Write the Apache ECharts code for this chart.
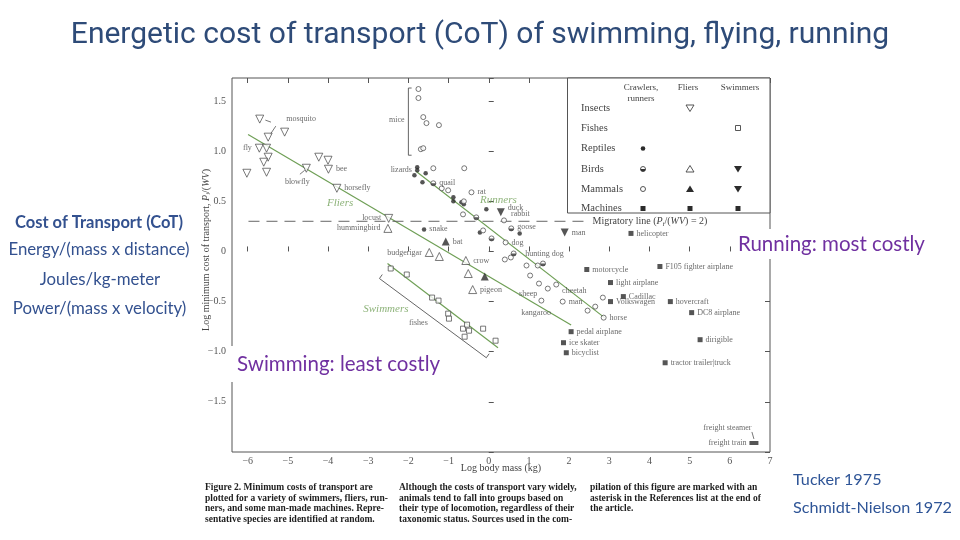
<!DOCTYPE html>
<html>
<head>
<meta charset="utf-8">
<title>Energetic cost of transport</title>
<script src="https://cdn.jsdelivr.net/npm/echarts@6/dist/echarts.min.js"></script>
<style>
  html, body { margin: 0; padding: 0; background: #fff; }
  #main { width: 960px; height: 540px; }
</style>
</head>
<body>
<div id="main"></div>
<script>
  // tick labels
  const xTickValues = [-6, -5, -4, -3, -2, -1, 0, 1, 2, 3, 4, 5, 6, 7];
  const xTickLabels = ['\u22126', '\u22125', '\u22124', '\u22123', '\u22122', '\u22121', '0', '1', '2', '3', '4', '5', '6', '7'];
  const yTickValues = [-1.5, -1, -0.5, 0, 0.5, 1, 1.5];
  const yTickLabels = ['\u22121.5', '\u22121.0', '\u22120.5', '0', '0.5', '1.0', '1.5'];

  // [log body mass, log cost of transport, label]
  const insects = [
    [-5.70, 1.32, 'mosquito'], [-5.49, 1.14], [-5.08, 1.19], [-5.71, 1.03, 'fly'], [-5.53, 1.03],
    [-5.49, 0.94], [-5.60, 0.89], [-6.02, 0.78], [-5.53, 0.79], [-4.54, 0.83, 'blowfly'],
    [-4.23, 0.94], [-4.00, 0.91], [-3.99, 0.82, 'bee'], [-3.78, 0.63, 'horsefly'], [-2.49, 0.33, 'locust']
  ];
  const birdsFly = [
    [-2.51, 0.23, 'hummingbird'], [-1.48, -0.01, 'budgerigar'], [-1.23, -0.05],
    [-0.57, -0.09, 'crow'], [-0.51, -0.22], [-0.40, -0.38, 'pigeon']
  ];
  const mammalsFly = [[-1.07, 0.10, 'bat'], [-0.10, -0.25]];
  const birdsSwim = [[0.30, 0.39, 'duck']];
  const mammalsSwim = [[1.89, 0.19, 'man']];
  const fishes = [
    [-2.44, -0.17], [-2.04, -0.23], [-1.41, -0.46], [-1.25, -0.49], [-1.01, -0.62], [-0.99, -0.67],
    [-0.64, -0.77], [-0.54, -0.73], [-0.49, -0.79], [-0.60, -0.85], [-0.14, -0.77], [0.17, -0.89]
  ];
  const reptiles = [
    [-1.78, 0.84], [-1.78, 0.81, 'lizards'], [-1.85, 0.76], [-1.57, 0.78], [-1.65, 0.69],
    [-1.61, 0.22, 'snake'], [-0.88, 0.54], [-0.88, 0.50], [-0.68, 0.49], [-0.62, 0.47],
    [-0.06, 0.42], [-0.22, 0.19], [0.77, 0.18]
  ];
  const birdsRun = [
    [-1.38, 0.68, 'quail'], [-0.31, 0.34], [0.56, 0.23, 'goose'], [0.07, 0.13], [0.62, -0.02], [1.35, -0.12]
  ];
  const mammalsRun = [
    [-1.75, 1.62], [-1.75, 1.53], [-1.63, 1.34], [-1.55, 1.28], [-1.24, 1.26], [-1.69, 1.02], [-1.63, 1.03],
    [-1.38, 0.83], [-0.61, 0.83], [-1.17, 0.63], [-1.01, 0.61], [-0.43, 0.59, 'rat'], [-0.62, 0.50],
    [-0.64, 0.37], [0.38, 0.31, 'rabbit'], [-0.14, 0.21], [0.42, 0.09, 'dog'], [0.40, -0.08], [0.55, -0.06],
    [0.94, -0.14], [1.22, -0.14], [1.03, -0.24], [1.25, -0.32], [1.31, -0.49], [1.84, -0.50, 'man'],
    [1.47, -0.37], [1.68, -0.33], [2.84, -0.46], [2.65, -0.55], [2.46, -0.59], [2.86, -0.66, 'horse']
  ];
  const machines = [
    [3.54, 0.18, 'helicopter'], [2.44, -0.18, 'motorcycle'], [4.26, -0.15, 'F105 fighter airplane'],
    [3.03, -0.31, 'light airplane'], [3.35, -0.45, 'Cadillac'], [3.03, -0.50, 'Volkswagen'],
    [4.52, -0.50, 'hovercraft'], [5.05, -0.61, 'DC8 airplane'], [2.05, -0.80, 'pedal airplane'],
    [1.86, -0.91, 'ice skater'], [1.93, -1.01, 'bicyclist'], [5.26, -0.88, 'dirigible'],
    [4.39, -1.11, 'tractor trailer|truck'], [6.60, -1.91, 'freight train']
  ];

  // fitted lines and annotations
  const fliersLine = [[-5.99, 1.167], [2.05, -0.733]];
  const runnersLine = [[-1.81, 0.80], [2.88, -0.66]];
  const swimmersLine = [[-2.52, -0.12], [0.23, -0.96]];
  const swimmersRange = [[-2.65, -0.23], [-2.72, -0.27], [-0.06, -1.06], [0.01, -1.02]];
  const miceBracket = [[-1.92, 1.63], [-2.0, 1.63], [-2.0, 0.96], [-1.92, 0.96]];
  const migratoryLine = [[-5.98, 0.301], [2.46, 0.301]];
  const leaders = [
    [[-5.56, 1.31], [-5.42, 1.29]], [[-5.30, 1.25], [-5.45, 1.16]],
    [[-4.70, 0.77], [-4.58, 0.81]], [[6.55, -1.80], [6.60, -1.87]]
  ];
  const notes = [
    [-2.29, 1.31, 'mice'], [-1.75, -0.71, 'fishes'], [0.98, -0.42, 'sheep'], [1.18, -0.61, 'kangaroo'],
    [1.39, -0.02, 'hunting dog'], [2.13, -0.39, 'cheetah'], [5.94, -1.76, 'freight steamer']
  ];
  const groupNotes = [[-3.70, 0.48, 'Fliers'], [0.24, 0.51, 'Runners'], [-2.56, -0.57, 'Swimmers']];

  const caption = [
    ['Figure 2. Minimum costs of transport are', 'plotted for a variety of swimmers, fliers, run-',
     'ners, and some man-made machines. Repre-', 'sentative species are identified at random.'],
    ['Although the costs of transport vary widely,', 'animals tend to fall into groups based on',
     'their type of locomotion, regardless of their', 'taxonomic status. Sources used in the com-'],
    ['pilation of this figure are marked with an', 'asterisk in the References list at the end of',
     'the article.']
  ];

  const serif = 'Liberation Serif';
  const ink = '#2b2b2b';
  const textInk = '#444';
  const green = '#6f9f56';

  const labelSide = { fly: 'left', lizards: 'left', locust: 'left', hummingbird: 'left', budgerigar: 'left', blowfly: 'bottom', 'freight train': 'left' };
  const labelGap = { mosquito: 22, blowfly: 5 };
  const labelShift = { blowfly: [-9, 0], duck: [0, -4], rabbit: [1, -6], goose: [0, -1] };

  function pts(arr) {
    return arr.map(function (d) {
      const o = { value: [d[0], d[1]] };
      if (d[2]) {
        o.name = d[2];
        o.label = {
          show: true,
          position: labelSide[d[2]] || 'right',
          distance: labelGap[d[2]] != null ? labelGap[d[2]] : 3,
          offset: labelShift[d[2]] || [0, 0]
        };
        if (d[2] === 'freight train') o.symbolSize = [9, 4];
      }
      return o;
    });
  }

  const pointLabel = { fontFamily: serif, fontSize: 8, color: textInk, formatter: '{b}' };
  const openStyle = { color: '#fff', borderColor: '#444', borderWidth: 0.9 };
  const fillStyle = { color: ink };

  function scatter(arr, symbol, size, style, rotate) {
    return {
      type: 'scatter', data: pts(arr), symbol: symbol, symbolSize: size,
      symbolRotate: rotate || 0, itemStyle: style, label: pointLabel, silent: true, z: 4
    };
  }
  function line(data, color, width, type) {
    return {
      type: 'line', data: data, symbol: 'none', silent: true, z: 3,
      lineStyle: { color: color, width: width, type: type || 'solid' }
    };
  }

  const series = [
    line(fliersLine, green, 1.2),
    line(runnersLine, green, 1.2),
    line(swimmersLine, green, 1.2),
    line(swimmersRange, '#666', 1),
    line(miceBracket, '#555', 0.9),
    Object.assign(line(migratoryLine, '#555', 0.9, [11, 7]), {
      endLabel: {
        show: true, distance: 5, fontFamily: serif, fontSize: 10, color: textInk,
        formatter: 'Migratory line ({i|P}{s|i}/({i|WV}) = 2)',
        rich: {
          i: { fontFamily: serif, fontSize: 10, fontStyle: 'italic', color: textInk },
          s: { fontFamily: serif, fontSize: 7, fontStyle: 'italic', color: textInk, padding: [5, 0, 0, 0] }
        }
      }
    })
  ];
  leaders.forEach(function (l) { series.push(line(l, '#555', 0.8)); });

  series.push(
    scatter(insects, 'triangle', 8, openStyle, 180),
    scatter(birdsFly, 'triangle', 8, openStyle),
    scatter(mammalsFly, 'triangle', 8, fillStyle),
    scatter(birdsSwim, 'triangle', 8, fillStyle, 180),
    scatter(mammalsSwim, 'triangle', 8, fillStyle, 180),
    scatter(fishes, 'rect', 5, openStyle),
    scatter(reptiles, 'circle', 4.5, fillStyle),
    scatter(mammalsRun, 'circle', 5, openStyle),
    scatter(birdsRun, 'circle', 5, openStyle),
    {
      type: 'scatter', data: birdsRun.map(function (d) { return [d[0], d[1]]; }),
      symbol: 'path://M0,0 A5,5 0 0 0 10,0 Z', symbolKeepAspect: false,
      symbolSize: [5, 2.5], symbolOffset: [0, 1.25], itemStyle: { color: '#333' }, silent: true, z: 5
    },
    scatter(machines, 'rect', 5, fillStyle),
    {
      type: 'scatter', symbolSize: 0, silent: true, z: 4,
      data: notes.map(function (d) { return { value: [d[0], d[1]], name: d[2] }; }),
      label: { show: true, position: 'inside', fontFamily: serif, fontSize: 8, color: textInk, formatter: '{b}' }
    },
    {
      type: 'scatter', symbolSize: 0, silent: true, z: 4,
      data: groupNotes.map(function (d) { return { value: [d[0], d[1]], name: d[2] }; }),
      label: { show: true, position: 'inside', fontFamily: serif, fontSize: 11, fontStyle: 'italic', color: green, formatter: '{b}' }
    }
  );

  // legend table (drawn as graphics)
  const legendRows = ['Insects', 'Fishes', 'Reptiles', 'Birds', 'Mammals', 'Machines'];
  const rowY = [108, 128, 148.5, 169, 189, 208.5];
  const colX = [643, 690, 738];
  const open = { fill: '#fff', stroke: '#444', lineWidth: 0.9 };
  const solid = { fill: ink };
  function up(cx, cy, st) { return { type: 'polygon', shape: { points: [[cx, cy - 3.5], [cx + 4, cy + 3], [cx - 4, cy + 3]] }, style: st, z: 20 }; }
  function down(cx, cy, st) { return { type: 'polygon', shape: { points: [[cx - 4, cy - 3], [cx + 4, cy - 3], [cx, cy + 3.5]] }, style: st, z: 20 }; }
  function sq(cx, cy, st) { return { type: 'rect', shape: { x: cx - 2.5, y: cy - 2.5, width: 5, height: 5 }, style: st, z: 20 }; }
  function dot(cx, cy, r, st) { return { type: 'circle', shape: { cx: cx, cy: cy, r: r }, style: st, z: 20 }; }

  const slideBlue = '#33518f';
  const graphics = [
    { type: 'text', x: 480, y: 35, style: { text: 'Energetic cost of transport (CoT) of swimming, flying, running', align: 'center', verticalAlign: 'middle', fontFamily: 'Roboto', fontSize: 30, fill: '#2e4b78' } },
    { type: 'text', x: 99, y: 223, style: { text: 'Cost of Transport (CoT)', align: 'center', verticalAlign: 'middle', fontFamily: 'Lato', fontWeight: 'bold', fontSize: 16.5, fill: slideBlue } },
    { type: 'text', x: 99, y: 250, style: { text: 'Energy/(mass x distance)', align: 'center', verticalAlign: 'middle', fontFamily: 'Lato', fontSize: 16.8, fill: slideBlue } },
    { type: 'text', x: 100, y: 280, style: { text: 'Joules/kg-meter', align: 'center', verticalAlign: 'middle', fontFamily: 'Lato', fontSize: 16.8, fill: slideBlue } },
    { type: 'text', x: 99.5, y: 308.5, style: { text: 'Power/(mass x velocity)', align: 'center', verticalAlign: 'middle', fontFamily: 'Lato', fontSize: 16.8, fill: slideBlue } },
    { type: 'text', x: 793, y: 480, style: { text: 'Tucker 1975', verticalAlign: 'middle', fontFamily: 'Lato', fontSize: 16.2, fill: '#2f5597' } },
    { type: 'text', x: 793, y: 508, style: { text: 'Schmidt-Nielson 1972', verticalAlign: 'middle', fontFamily: 'Lato', fontSize: 16.2, fill: '#2f5597' } },
    { type: 'rect', shape: { x: 733, y: 229, width: 205, height: 30 }, style: { fill: '#fff' }, z: 50 },
    { type: 'text', x: 738, y: 244, z: 51, style: { text: 'Running: most costly', verticalAlign: 'middle', fontFamily: 'Lato', fontSize: 20.5, fill: '#7030a0' } },
    { type: 'rect', shape: { x: 229, y: 346, width: 220, height: 36 }, style: { fill: '#fff' }, z: 50 },
    { type: 'text', x: 237, y: 364, z: 51, style: { text: 'Swimming: least costly', verticalAlign: 'middle', fontFamily: 'Lato', fontSize: 20.5, fill: '#7030a0' } },
    {
      type: 'text', x: 206, y: 250, rotation: Math.PI / 2, z: 20,
      style: {
        text: 'Log minimum cost of transport, {i|P}{s|i}{n|/(}{i|WV}{n|)}', align: 'center', verticalAlign: 'middle',
        fontFamily: serif, fontSize: 10, fill: textInk,
        rich: {
          i: { fontFamily: serif, fontSize: 10, fontStyle: 'italic', fill: textInk },
          s: { fontFamily: serif, fontSize: 7, fontStyle: 'italic', fill: textInk, padding: [5, 0, 0, 0] },
          n: { fontFamily: serif, fontSize: 10, fill: textInk }
        }
      }
    },
    // legend box
    { type: 'rect', shape: { x: 567.5, y: 78, width: 202.5, height: 135 }, style: { fill: '#fff', stroke: '#555', lineWidth: 1 }, z: 15 },
    { type: 'text', x: 641, y: 88, z: 20, style: { text: 'Crawlers,', align: 'center', verticalAlign: 'middle', fontFamily: serif, fontSize: 9, fill: textInk } },
    { type: 'text', x: 641, y: 98.5, z: 20, style: { text: 'runners', align: 'center', verticalAlign: 'middle', fontFamily: serif, fontSize: 9, fill: textInk } },
    { type: 'text', x: 688, y: 88, z: 20, style: { text: 'Fliers', align: 'center', verticalAlign: 'middle', fontFamily: serif, fontSize: 9, fill: textInk } },
    { type: 'text', x: 740, y: 88, z: 20, style: { text: 'Swimmers', align: 'center', verticalAlign: 'middle', fontFamily: serif, fontSize: 9, fill: textInk } },
    down(colX[1], rowY[0], open),
    sq(colX[2], rowY[1], open),
    dot(colX[0], rowY[2], 2.3, solid),
    dot(colX[0], rowY[3], 2.5, open),
    { type: 'sector', shape: { cx: colX[0], cy: rowY[3], r: 2.5, startAngle: 0, endAngle: Math.PI, clockwise: true }, style: { fill: '#333' }, z: 21 },
    up(colX[1], rowY[3], open),
    down(colX[2], rowY[3], solid),
    dot(colX[0], rowY[4], 2.5, open),
    up(colX[1], rowY[4], solid),
    down(colX[2], rowY[4], solid),
    sq(colX[0], rowY[5], solid),
    sq(colX[1], rowY[5], solid),
    sq(colX[2], rowY[5], solid)
  ];
  legendRows.forEach(function (r, i) {
    graphics.push({ type: 'text', x: 581, y: rowY[i], z: 20, style: { text: r, verticalAlign: 'middle', fontFamily: serif, fontSize: 10.5, fill: textInk } });
  });
  const capX = [205, 399, 590];
  caption.forEach(function (col, c) {
    col.forEach(function (t, i) {
      graphics.push({ type: 'text', x: capX[c], y: 488 + i * 10.4, style: { text: t, verticalAlign: 'middle', fontFamily: serif, fontWeight: 'bold', fontSize: 9.5, fill: '#1e1e1e' } });
    });
  });

  function tickFmt(values, labels) {
    return function (v) {
      const i = values.findIndex(function (t) { return Math.abs(t - v) < 1e-6; });
      return i < 0 ? '' : labels[i];
    };
  }

  const myChart = echarts.init(document.getElementById('main'), null, { renderer: 'canvas' });
  const option = {
    backgroundColor: '#fff',
    animation: false,
    grid: [
      { left: 232, right: 190, top: 78, bottom: 88, show: true, borderColor: '#555', borderWidth: 1 },
      { left: 247.7, right: 190, top: 78, bottom: 88 }
    ],
    xAxis: [
      {
        gridIndex: 0, type: 'value', min: -6.39, max: 7,
        name: 'Log body mass (kg)', nameLocation: 'middle', nameGap: 11,
        nameTextStyle: { fontFamily: serif, fontSize: 10, color: textInk },
        axisLine: { show: false }, axisTick: { show: false }, axisLabel: { show: false }, splitLine: { show: false }
      },
      {
        gridIndex: 1, type: 'value', min: -6, max: 7, interval: 1, position: 'bottom',
        axisLine: { show: false }, splitLine: { show: false },
        axisTick: { inside: true, length: 5, lineStyle: { color: '#555' } },
        axisLabel: { margin: 4, fontFamily: serif, fontSize: 10, color: '#555', formatter: tickFmt(xTickValues, xTickLabels) }
      },
      {
        gridIndex: 1, type: 'value', min: -6, max: 7, interval: 1, position: 'top',
        axisLine: { show: false }, splitLine: { show: false }, axisLabel: { show: false },
        axisTick: { inside: true, length: 5, lineStyle: { color: '#555' } }
      }
    ],
    yAxis: [
      {
        gridIndex: 0, type: 'value', min: -2, max: 1.73, interval: 0.5,
        axisLine: { show: false }, splitLine: { show: false },
        axisTick: { inside: true, length: 5, lineStyle: { color: '#555' } },
        axisLabel: { margin: 6, fontFamily: serif, fontSize: 10, color: '#555', formatter: tickFmt(yTickValues, yTickLabels) }
      },
      {
        gridIndex: 0, type: 'value', min: -2, max: 1.73, interval: 0.5, position: 'right',
        axisLine: { show: false }, splitLine: { show: false }, axisLabel: { show: false },
        axisTick: { inside: true, length: 5, lineStyle: { color: '#555' } }
      },
      { gridIndex: 1, type: 'value', min: -2, max: 1.73, show: false }
    ],
    series: series,
    graphic: graphics
  };
  myChart.setOption(option);
</script>
</body>
</html>
